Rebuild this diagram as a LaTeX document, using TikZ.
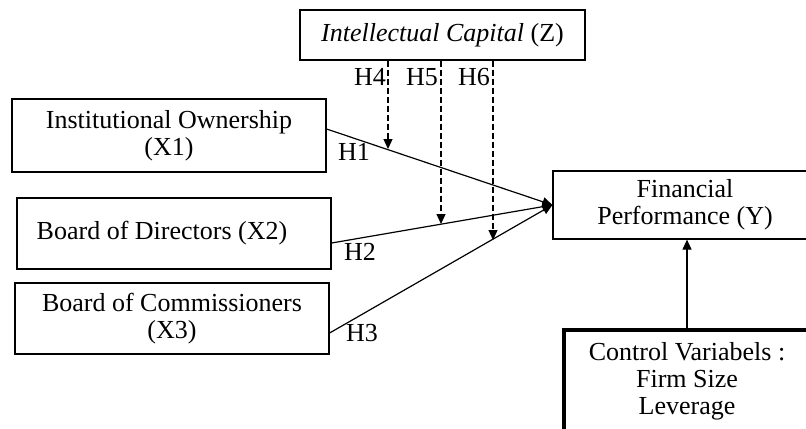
\documentclass[tikz,border=0pt]{standalone}
\usepackage{fontspec}
\setmainfont{Liberation Serif}
\usepackage{tikz}
\usetikzlibrary{arrows.meta}

\begin{document}
\begin{tikzpicture}[x=0.5pt,y=-0.5pt,
    box/.style={draw,line width=0.6pt,align=center,font=\fontsize{13}{13.5}\selectfont},
    hyp/.style={font=\fontsize{13}{13.5}\selectfont,inner sep=0pt},
    path/.style={-{Triangle[length=5pt,width=4.5pt]},line width=0.6pt},
    moderate/.style={path,dash pattern=on 3pt off 1.5pt}]

    \useasboundingbox (0,0) rectangle (806,428);
    \clip (0,0) rectangle (806,428);

    % Moderator
    \node[box,minimum width=142.5pt,minimum height=25pt] (z) at (442.5,35) {\textit{Intellectual Capital} (Z)};

    % Independent variables
    \node[box,minimum width=157pt,minimum height=36.5pt] (x1) at (169,135.5) {Institutional Ownership\\(X1)};
    \node[box,minimum width=157pt,minimum height=35.5pt] (x2) at (174,233.5) {\mbox{Board of Directors (X2)\hspace{12pt}}};
    \node[box,minimum width=157pt,minimum height=35.5pt] (x3) at (172,318.5) {Board of Commissioners\\(X3)};

    % Dependent variable
    \node[box,minimum width=132pt,minimum height=34pt] (y) at (685,205) {Financial\\Performance (Y)};

    % Control variables
    \node[box,line width=2pt,minimum width=123pt,minimum height=51pt] (ctrl) at (687,381) {Control Variabels :\\Firm Size\\Leverage};

    % Direct paths
    \draw[path] ([yshift=3.25pt]x1.east) -- (y.west);
    \draw[path] ([yshift=-4.75pt]x2.east) -- (y.west);
    \draw[path] ([yshift=-7.25pt]x3.east) -- (y.west);
    \draw[path] (ctrl.north) -- (ctrl.north |- y.south);

    % Moderating paths
    \coordinate (m1) at (388,149);
    \coordinate (m2) at (441,224);
    \coordinate (m3) at (493,240);
    \draw[moderate] (z.south -| m1) -- (m1);
    \draw[moderate] (z.south -| m2) -- (m2);
    \draw[moderate] (z.south -| m3) -- (m3);

    % Hypotheses
    \node[hyp] (h1) at (354,152) {H1};
    \node[hyp] (h2) at (360,252) {H2};
    \node[hyp] (h3) at (362,333) {H3};
    \node[hyp] (h4) at (370,77) {H4};
    \node[hyp] (h5) at (422,77) {H5};
    \node[hyp] (h6) at (474,77) {H6};
\end{tikzpicture}
\end{document}
